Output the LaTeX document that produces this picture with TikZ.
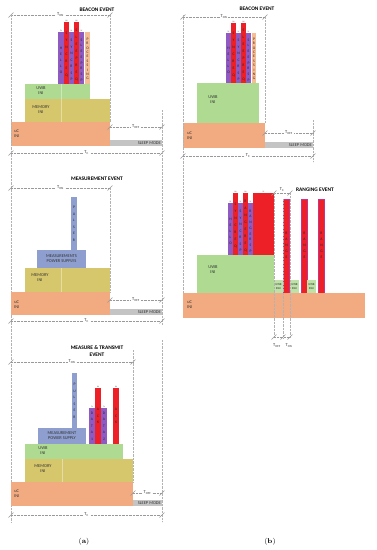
\documentclass[tikz,border=0pt]{standalone}
\usepackage{fontspec}
\setsansfont{Carlito}
\usetikzlibrary{positioning}
\definecolor{ucC}{HTML}{F2AB80}
\definecolor{memC}{HTML}{D6C66C}
\definecolor{uwbC}{HTML}{AEDA92}
\definecolor{purC}{HTML}{8F5BC2}
\definecolor{redC}{HTML}{EE2027}
\definecolor{pchC}{HTML}{F6BC93}
\definecolor{pulC}{HTML}{8E9FCF}
\definecolor{slpC}{HTML}{C4C4C4}
\definecolor{magC}{HTML}{C2358F}
\newcommand\vtxt[2][6]{\vbox{\baselineskip=#1pt\lineskiplimit=-10pt\expandafter\vtxtA#2\relax}}
\def\vtxtA#1{\ifx#1\relax\else\hbox to 4pt{\hss#1\hss}\expandafter\vtxtA\fi}
\newcommand\dtick[2]{\draw[gray!80, line width=0.4pt] ({#1-2.5},{#2+2.5}) -- ({#1+2.5},{#2-2.5});}

\begin{document}
\begin{tikzpicture}[x=1pt, y=-1pt,
  lbl/.style={font=\sffamily\fontsize{4.4}{5}\selectfont, align=center, inner sep=0, text=black!80},
  ttl/.style={font=\sffamily\bfseries\fontsize{5.4}{6.6}\selectfont, align=center, inner sep=0},
  dim/.style={densely dotted, gray!80, line width=0.4pt},
  vln/.style={densely dotted, gray!60, line width=0.4pt},
  vt/.style={font=\sffamily\fontsize{3.7}{3.9}\selectfont, inner sep=0, text=black!85},
  tx/.style={font=\sffamily\fontsize{1.8}{2}\selectfont, inner sep=0, text=black!70},
  dimlbl/.style={font=\sffamily\fontsize{4.4}{5}\selectfont, fill=white, inner sep=1pt, text=black!80}]
  \fill[white] (0,0) rectangle (377,550);
  \useasboundingbox (0,0) rectangle (377,550);

  % (a) beacon event
  \node[ttl] (ttlA1) at (97,10) {BEACON EVENT};
  \fill[memC] (25,99) rectangle (110,122);
  \fill[uwbC] (25,84) rectangle (90,99);
  \fill[ucC] (11,122) rectangle (110,146);
  \fill[slpC] (110,140) rectangle (162,146);
  \draw[white, opacity=0.4, line width=0.3pt] (61,84) -- (61,122);
  \foreach \xl/\xr/\tp/\cl/\wrd/\spc/\tg/\nm in {58/64/32/purC/HELLO/6/TX/a1, 64/69/22/redC/SYNCREQ/7/RX/a2,
      69/74/32/purC/SYNCRSP/6.5/TX/a3, 74/79/22/redC/SLEEPREQ/7/RX/a4, 79/84/32/purC/SLEEPRSP/5.7/TX/a5}{
    \fill[\cl] (\xl,\tp) rectangle (\xr,84);
    \node[vt] (bar\nm) at ({(\xl+\xr)/2},{(\tp+84)/2+2}) {\vtxt[\spc]{\wrd}};
    \node[tx] (tx\nm) at ({(\xl+\xr)/2},{\tp-1.5}) {\tg};
  }
  \fill[pchC] (85,32) rectangle (90,84);
  \node[vt] (bara6) at (87.5,59) {\vtxt[4.4]{PROCESSING}};
  \node[lbl] (uwbA1) at (41,91) {UWB\\INI};
  \node[lbl] (memA1) at (41,110) {MEMORY\\INI};
  \node[lbl, anchor=west] (ucA1) at (14,134) {uC\\INI};
  \node[lbl, anchor=east] (slpA1) at (161,143) {SLEEP MODE};
  \draw[dim] (11,15) -- node[dimlbl] (tonA1) {T\textsubscript{ON}} (110,15);
  \dtick{11}{15} \dtick{110}{15}
  \draw[dim] (110,127) -- node[dimlbl] (toffA1) {T\textsubscript{OFF}} (162,127);
  \dtick{110}{127} \dtick{162}{127}
  \draw[dim] (11,153) -- node[dimlbl] (tcA1) {T\textsubscript{C}} (162,153);
  \dtick{11}{153} \dtick{162}{153}
  \draw[vln] (110,15) -- (110,122);
  \draw[vln] (162,110) -- (162,325);
  \draw[vln] (11,15) -- (11,522);

  % (a) measurement event
  \node[ttl] (ttlA2) at (97,179) {MEASUREMENT EVENT};
  \fill[pulC] (71,197) rectangle (77,250);
  \node[vt] (pulA2) at (74,224) {\vtxt[6.5]{PULSER}};
  \fill[pulC] (37,250) rectangle (86,268);
  \node[lbl] (pwrA2) at (61.5,259) {MEASUREMENTS\\POWER SUPPLYS};
  \fill[memC] (25,268) rectangle (110,292);
  \draw[white, opacity=0.4, line width=0.3pt] (61,268) -- (61,292);
  \node[lbl] (memA2) at (40,278) {MEMORY\\INI};
  \fill[ucC] (11,292) rectangle (110,315);
  \node[lbl, anchor=west] (ucA2) at (14,305) {uC\\INI};
  \fill[slpC] (110,309) rectangle (162,315);
  \node[lbl, anchor=east] (slpA2) at (161,312) {SLEEP MODE};
  \draw[dim] (11,188) -- node[dimlbl] (tonA2) {T\textsubscript{ON}} (110,188);
  \dtick{11}{188} \dtick{110}{188}
  \draw[vln] (110,188) -- (110,292);
  \draw[dim] (110,300) -- node[dimlbl] (toffA2) {T\textsubscript{OFF}} (162,300);
  \dtick{110}{300} \dtick{162}{300}
  \draw[dim] (11,321) -- node[dimlbl] (tcA2) {T\textsubscript{C}} (162,321);
  \dtick{11}{321} \dtick{162}{321}

  % (a) measure & transmit event
  \node[ttl] (ttlA3) at (97,351) {MEASURE \& TRANSMIT\\EVENT};
  \fill[pulC] (72,373) rectangle (77,428);
  \node[vt] (pulA3) at (74.5,401) {\vtxt[6.5]{PULSER}};
  \fill[pulC] (38,428) rectangle (86,444);
  \node[lbl] (pwrA3) at (62,436) {MEASUREMENT\\POWER SUPPLY};
  \foreach \xl/\xr/\tp/\cl/\wrd/\tg/\nm in {89/95/408/purC/DATA1/TX/t1, 95/101/388/redC/ACK/RX/t2,
      101/107/408/purC/DATA2/TX/t3, 113/119/388/redC/ACK/RX/t4}{
    \fill[\cl] (\xl,\tp) rectangle (\xr,444);
    \node[vt] (bar\nm) at ({(\xl+\xr)/2},{(\tp+444)/2}) {\vtxt[6.5]{\wrd}};
    \node[tx] (tx\nm) at ({(\xl+\xr)/2},{\tp-1.5}) {\tg};
  }
  \fill[uwbC] (25,444) rectangle (123,459);
  \node[lbl] (uwbA3) at (43,451) {UWB\\INI};
  \fill[memC] (25,459) rectangle (133,482);
  \draw[white, opacity=0.4, line width=0.3pt] (62,459) -- (62,482);
  \node[lbl] (memA3) at (43,469) {MEMORY\\INI};
  \fill[ucC] (11,482) rectangle (133,506);
  \node[lbl, anchor=west] (ucA3) at (14,494) {uC\\INI};
  \fill[slpC] (133,500) rectangle (162,506);
  \node[lbl, anchor=east] (slpA3) at (161,503) {SLEEP MODE};
  \draw[dim] (11,362) -- node[dimlbl] (tonA3) {T\textsubscript{ON}} (133,362);
  \dtick{11}{362} \dtick{133}{362}
  \draw[vln] (133,350) -- (133,482);
  \draw[vln] (162,340) -- (162,522);
  \draw[dim] (133,493) -- node[dimlbl] (toffA3) {T\textsubscript{OFF}} (162,493);
  \dtick{133}{493} \dtick{162}{493}
  \draw[dim] (11,515) -- node[dimlbl] (tcA3) {T\textsubscript{C}} (162,515);
  \dtick{11}{515} \dtick{162}{515}

  % (b) beacon event
  \node[ttl] (ttlB1) at (257,9) {BEACON EVENT};
  \fill[uwbC] (197,83) rectangle (259,123);
  \fill[ucC] (183,123) rectangle (265,148);
  \fill[slpC] (265,142) rectangle (313,148);
  \foreach \xl/\xr/\tp/\cl/\wrd/\spc/\tg/\nm in {226/231/33/purC/HELLO/6/TX/b1, 231/236/23/redC/SYNCREQ/7/RX/b2,
      236/241/33/purC/SYNCRSP/6.5/TX/b3, 241/246/23/redC/SLEEPREQ/7/RX/b4, 246/251/33/purC/SLEEPRSP/5.7/TX/b5}{
    \fill[\cl] (\xl,\tp) rectangle (\xr,83);
    \node[vt] (bar\nm) at ({(\xl+\xr)/2},{(\tp+83)/2+2}) {\vtxt[\spc]{\wrd}};
    \node[tx] (tx\nm) at ({(\xl+\xr)/2},{\tp-1.5}) {\tg};
  }
  \fill[pchC] (252,33) rectangle (256,83);
  \node[vt] (barb6) at (254,59) {\vtxt[4.4]{PROCESSING}};
  \node[lbl] (uwbB1) at (213,100) {UWB\\INI};
  \node[lbl, anchor=west] (ucB1) at (187,136) {uC\\INI};
  \node[lbl, anchor=east] (slpB1) at (312,145) {SLEEP MODE};
  \draw[dim] (183,17) -- node[dimlbl] (tonB1) {T\textsubscript{ON}} (265,17);
  \dtick{183}{17} \dtick{265}{17}
  \draw[vln] (265,17) -- (265,123);
  \draw[vln] (313,120) -- (313,162);
  \draw[vln] (183,15) -- (183,318);
  \draw[dim] (265,133) -- node[dimlbl] (toffB1) {T\textsubscript{OFF}} (313,133);
  \dtick{265}{133} \dtick{313}{133}
  \draw[dim] (183,156) -- node[dimlbl] (tcB1) {T\textsubscript{C}} (313,156);
  \dtick{183}{156} \dtick{313}{156}

  % (b) ranging event
  \node[ttl] (ttlB2) at (315,190) {RANGING EVENT};
  \fill[uwbC] (197,255) rectangle (274,293);
  \node[lbl] (uwbB2) at (213,270) {UWB\\INI};
  \foreach \xl/\xr/\tp/\cl/\wrd/\spc/\tg/\nm in {228/233/203/purC/HELLO/6/TX/r1, 233/238/193/redC/SYNCREQ/7/RX/r2,
      238/243/203/purC/SYNCRSP/6.5/TX/r3, 243/248/193/redC/RANGEREQ/7/RX/r4, 248/253/203/purC/RANGERSP/5.7/TX/r5}{
    \fill[\cl] (\xl,\tp) rectangle (\xr,255);
    \node[vt] (bar\nm) at ({(\xl+\xr)/2},{(\tp+255)/2+2}) {\vtxt[\spc]{\wrd}};
    \node[tx] (tx\nm) at ({(\xl+\xr)/2},{\tp-1.5}) {\tg};
  }
  \fill[redC] (253,193) rectangle (274,255);
  \node[tx] (txr6) at (263.5,191.5) {TX};
  \foreach \xl/\nm in {283/1, 301/2, 318/3}{
    \fill[magC] (\xl,199) rectangle ({\xl+7},293);
    \fill[redC] ({\xl+1.3},200) rectangle ({\xl+5.7},293);
    \node[vt] (rng\nm) at ({\xl+3.5},245) {\vtxt[6]{RANGE}};
  }
  \foreach \xl/\nm in {274/1, 290/2, 307/3}{
    \fill[uwbC!80!white] (\xl,280) rectangle ({\xl+9},293);
    \node[lbl, font=\sffamily\fontsize{3}{3.6}\selectfont] (idl\nm) at ({\xl+4.5},286.5) {UWB\\IDLE};
  }
  \fill[ucC] (183,293) rectangle (365,318);
  \node[lbl, anchor=west] (ucB2) at (187,305) {uC\\INI};
  \draw[dim] (274,193) -- node[dimlbl, above, fill=none] (tcB2) {T\textsubscript{C}} (290,193);
  \dtick{274}{193} \dtick{290}{193}
  \draw[vln] (274,193) -- (274,338);
  \draw[vln] (283,199) -- (283,338);
  \draw[vln] (290,193) -- (290,338);
  \draw[dim] (274,337) -- (290,337);
  \dtick{274}{337} \dtick{283}{337} \dtick{290}{337}
  \node[dimlbl, fill=none] (toffB2) at (277,346) {T\textsubscript{OFF}};
  \node[dimlbl, fill=none] (tonB2) at (289,346) {T\textsubscript{ON}};

  \node[font=\fontsize{7}{8}\selectfont] (capA) at (84,542) {(\textbf{a})};
  \node[font=\fontsize{7}{8}\selectfont] (capB) at (270,542) {(\textbf{b})};
\end{tikzpicture}
\end{document}
